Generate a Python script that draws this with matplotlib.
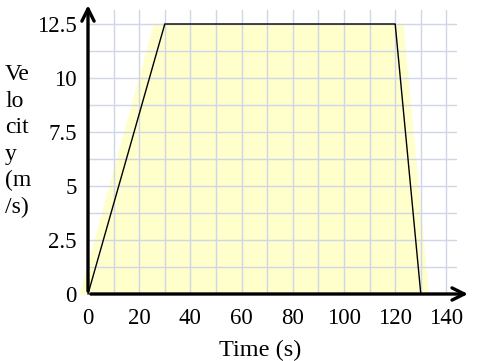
import numpy as np
import matplotlib
matplotlib.use("Agg")
import matplotlib.pyplot as plt

# ---------------------------------------------------------------
#   Velocity-time graph (trapezoid)
# ---------------------------------------------------------------

times = [0, 30, 120, 130]           # s
speeds = [0, 12.5, 12.5, 0]         # m/s

shade_t = [-3, 26, 123, 133]        # light yellow area behind the line
shade_v = [0, 12.5, 12.5, 0]

x_ticks = [0, 20, 40, 60, 80, 100, 120, 140]
y_ticks = [0, 2.5, 5, 7.5, 10, 12.5]
y_tick_labels = ["0", "2.5", "5", "7.5", "10", "12.5"]

plt.rcParams['font.family'] = ['Liberation Serif', 'DejaVu Serif']

W, H = 484, 361
fig = plt.figure(figsize=(W/100, H/100), dpi=100)

x0, y0 = 88, 294                    # pixel position of origin
xpx, ypx = 2.56, 21.6               # pixels per unit
xmax, ymax = 144, 13.15

ax = fig.add_axes([x0/W, (H-y0)/H, xmax*xpx/W, ymax*ypx/H])
ax.set_xlim(0, xmax)
ax.set_ylim(0, ymax)

for s in ax.spines.values():
    s.set_visible(False)

# grid (every 10 s and every 1.25 m/s)
for gx in np.arange(10, 141, 10):
    ax.axvline(gx, color='#d0d5e8', linewidth=1.0, zorder=2)
for gy in np.arange(1.25, 12.6, 1.25):
    ax.axhline(gy, color='#d0d5e8', linewidth=1.0, zorder=2)

ax.set_xticks(x_ticks)
ax.set_yticks(y_ticks)
ax.set_yticklabels(y_tick_labels)
ax.tick_params(length=0, labelsize=16.5)
ax.tick_params(axis='x', pad=10)
ax.tick_params(axis='y', pad=8)

# shaded area and graph line
ax.fill(shade_t, shade_v, color='#ffffcc', zorder=1, clip_on=False)
ax.plot(times, speeds, color='black', linewidth=1.0, zorder=3, clip_on=False)

# axes with arrows
arrow = dict(arrowstyle='->', color='black', lw=2.4, mutation_scale=22)
ax.annotate('', xy=(149.5, 0), xytext=(0, 0), arrowprops=arrow,
            annotation_clip=False, zorder=4)
ax.annotate('', xy=(0, 13.5), xytext=(0, 0), arrowprops=arrow,
            annotation_clip=False, zorder=4)

# labels
fig.text(5/W, 1 - 141/H, "Ve\nlo\ncit\ny\n(m\n/s)", fontsize=17,
         ha='left', va='center', linespacing=1.34)
fig.text(260/W, 1 - 350/H, "Time (s)", fontsize=17.5, ha='center', va='center')

fig.savefig("out.png", dpi=100)
